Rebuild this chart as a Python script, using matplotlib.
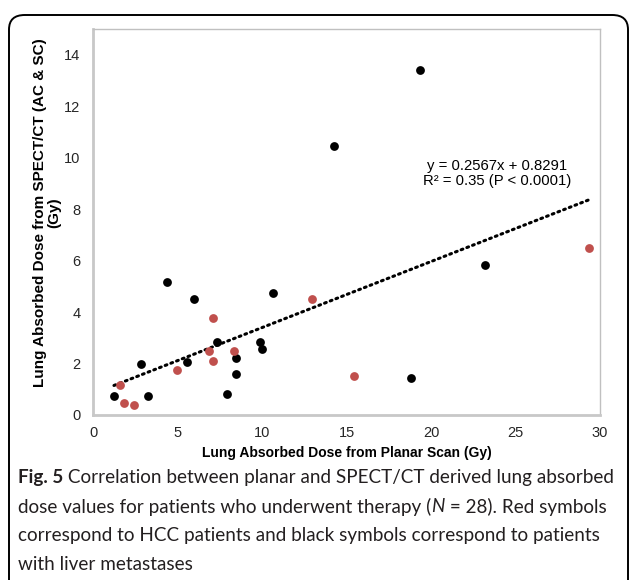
import matplotlib
matplotlib.use("Agg")
import matplotlib.pyplot as plt
from matplotlib.patches import FancyBboxPatch

# liver metastases (black)
mets_x = [19.37, 14.26, 23.2, 4.36, 5.99, 10.67, 7.36, 9.88, 10.02, 8.44, 5.56, 2.84, 8.44, 7.93, 3.27, 1.24, 18.8]
mets_y = [13.41, 10.44, 5.81, 5.16, 4.50, 4.75, 2.82, 2.82, 2.57, 2.23, 2.05, 2.00, 1.58, 0.83, 0.73, 0.73, 1.45]

# HCC (red)
hcc_x = [29.35, 12.98, 7.08, 6.86, 8.36, 7.08, 4.99, 15.46, 1.62, 1.81, 2.41]
hcc_y = [6.50, 4.50, 3.76, 2.48, 2.48, 2.10, 1.73, 1.53, 1.16, 0.45, 0.40]

slope, icpt = 0.2567, 0.8291
x_ticks = [0, 5, 10, 15, 20, 25, 30]
y_ticks = [0, 2, 4, 6, 8, 10, 12, 14]

plt.rcParams['font.family'] = ['Liberation Sans', 'DejaVu Sans']

fig = plt.figure(figsize=(6.3, 5.8), dpi=100)
ax = fig.add_axes([93/630, 1-415/580, (600-93)/630, (415-29)/580])

allx = mets_x + hcc_x
x0, x1 = min(allx), max(allx)
ax.plot([x0, x1], [slope*x0+icpt, slope*x1+icpt], color='black', lw=2.2,
        linestyle=(0, (0.6, 1.4)), dash_capstyle='round', zorder=2)

ax.scatter(mets_x, mets_y, s=40, color='black', zorder=3, linewidths=0)
ax.scatter(hcc_x, hcc_y, s=40, color='#c0504d', zorder=3, linewidths=0)

ax.set_xlim(0, 30)
ax.set_ylim(0, 15)
ax.set_xticks(x_ticks)
ax.set_yticks(y_ticks)
ax.tick_params(length=0, labelsize=10.5, colors='#262626')
ax.tick_params(axis='y', pad=9)
ax.tick_params(axis='x', pad=8)
for s in ['left', 'bottom']:
    ax.spines[s].set_color('#c8c8c8')
    ax.spines[s].set_linewidth(2)
for s in ['top', 'right']:
    ax.spines[s].set_color('#c0c0c0')
    ax.spines[s].set_linewidth(1)

ax.text(23.9, 9.4, 'y = 0.2567x + 0.8291\nR² = 0.35 (P < 0.0001)', ha='center', va='center',
        fontsize=10.7, linespacing=1.1)

ax.set_xlabel('Lung Absorbed Dose from Planar Scan (Gy)', fontsize=10, fontweight='bold', labelpad=4)
ax.set_ylabel('Lung Absorbed Dose from SPECT/CT (AC & SC)\n(Gy)', fontsize=11, fontweight='bold',
              linespacing=1.0)
ax.yaxis.set_label_coords(-32/507, (415-213)/386)

box = FancyBboxPatch((9/630, -0.2), (628-9)/630, 1-15/580+0.2, boxstyle='round,pad=0,rounding_size=0.025',
                     transform=fig.transFigure, fill=False, edgecolor='black', lw=1.4, clip_on=False)
fig.patches.append(box)

# caption: size chosen so the first line spans about 597 px like the reference
cap_font = ['Lato', 'Open Sans', 'DejaVu Sans']
first_rest = ' Correlation between planar and SPECT/CT derived lung absorbed'
lines = ['dose values for patients who underwent therapy (N = 28). Red symbols',
         'correspond to HCC patients and black symbols correspond to patients',
         'with liver metastases']
renderer = fig.canvas.get_renderer()
fs = 14
for _ in range(3):
    tb = fig.text(0, 0, 'Fig. 5', family=cap_font, fontsize=fs, fontweight='bold')
    tr = fig.text(0, 0, first_rest, family=cap_font, fontsize=fs)
    w = tb.get_window_extent(renderer).width + tr.get_window_extent(renderer).width
    tb.remove(); tr.remove()
    fs = fs * 597 / w

col = '#231f20'
tb = fig.text(18/630, 1-478/580, 'Fig. 5', family=cap_font, fontsize=fs, fontweight='bold', va='center', color=col)
wb = tb.get_window_extent(renderer).width
fig.text((18+wb)/630, 1-478/580, first_rest, family=cap_font, fontsize=fs, va='center', color=col)

# second line, with italic N
y2 = 1-507/580
pre, post = 'dose values for patients who underwent therapy (', ' = 28). Red symbols'
t1 = fig.text(18/630, y2, pre, family=cap_font, fontsize=fs, va='center', color=col)
w1 = t1.get_window_extent(renderer).width
t2 = fig.text((18+w1)/630, y2, 'N', family=cap_font, fontsize=fs, style='italic', va='center', color=col)
w2 = t2.get_window_extent(renderer).width
fig.text((18+w1+w2)/630, y2, post, family=cap_font, fontsize=fs, va='center', color=col)

for i, ln in enumerate(lines[1:]):
    fig.text(18/630, 1-(536+29*i)/580, ln, family=cap_font, fontsize=fs, va='center', color=col)

fig.savefig('out.png', dpi=100)
